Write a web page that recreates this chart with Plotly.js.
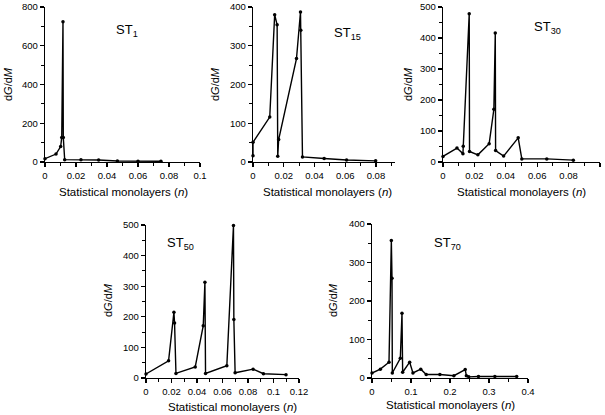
<!DOCTYPE html>
<html>
<head>
<meta charset="utf-8">
<script src="https://cdn.plot.ly/plotly-3.0.1.min.js"></script>
<style>
  html, body { margin: 0; padding: 0; background: #fff; }
  #plot { width: 605px; height: 415px; }
</style>
</head>
<body>
<div id="plot"></div>
<script>
// ST1
const st1_n = [0, 0.0071, 0.0101, 0.0108, 0.0116, 0.0118, 0.0127, 0.0232, 0.0346, 0.0467, 0.06, 0.0748];
const st1_dg = [17, 41, 80, 127, 724, 127, 12, 12, 10, 5, 4, 4];

// ST15
const st15_n = [0, 0, 0.0109, 0.0141, 0.0157, 0.0161, 0.0167, 0.0283, 0.0309, 0.0311, 0.0322, 0.0463, 0.0609, 0.0798];
const st15_dg = [16, 51, 116, 380, 354, 15, 58, 267, 387, 340, 13, 9, 5, 3];

// ST30
const st30_n = [0, 0.0089, 0.0127, 0.0129, 0.0167, 0.0169, 0.0222, 0.0294, 0.0324, 0.0333, 0.0335, 0.0386, 0.0479, 0.0502, 0.0661, 0.083];
const st30_dg = [18, 45, 27, 51, 478, 34, 23, 59, 170, 416, 37, 19, 78, 10, 10, 6];

// ST50
const st50_n = [0, 0.0177, 0.0219, 0.0224, 0.0235, 0.0386, 0.0449, 0.0462, 0.0467, 0.0634, 0.0686, 0.0689, 0.0699, 0.084, 0.0921, 0.1098];
const st50_dg = [13, 56, 215, 180, 15, 36, 171, 313, 15, 40, 498, 191, 17, 29, 14, 11];

// ST70
const st70_n = [0, 0.0214, 0.0436, 0.0496, 0.0513, 0.0521, 0.0726, 0.0769, 0.0786, 0.0966, 0.105, 0.125, 0.139, 0.174, 0.21, 0.239, 0.242, 0.248, 0.273, 0.315, 0.371];
const st70_dg = [13, 23, 41, 357, 259, 13, 51, 168, 15, 41, 13, 23, 9, 9, 6, 22, 6, 3, 4, 4, 4];

const labels = ['ST<sub>1</sub>', 'ST<sub>15</sub>', 'ST<sub>30</sub>', 'ST<sub>50</sub>', 'ST<sub>70</sub>'];

const W = 605, H = 415;
const fx = p => p / W;
const fy = p => 1 - p / H;

const series = [[st1_n, st1_dg], [st15_n, st15_dg], [st30_n, st30_dg], [st50_n, st50_dg], [st70_n, st70_dg]];

const data = series.map((s, i) => ({
    x: s[0],
    y: s[1],
    type: 'scatter',
    mode: 'lines+markers',
    xaxis: i === 0 ? 'x' : 'x' + (i + 1),
    yaxis: i === 0 ? 'y' : 'y' + (i + 1),
    line: { color: '#000', width: 1.4 },
    marker: { color: '#000', size: 3.5 },
    cliponaxis: false,
    showlegend: false,
}));

// pixel boxes of each panel [left, right, top, bottom]
const boxes = [
    [45, 200, 7, 162],
    [253, 395, 7, 162],
    [443, 600, 7, 162],
    [146, 299, 225, 378],
    [372, 528, 224, 378],
];
const xranges = [[0, 0.1], [0, 0.0924], [0, 0.1], [0, 0.12], [0, 0.4]];
const yranges = [[0, 800], [0, 400], [0, 500], [0, 500], [0, 400]];
const xdt = [0.02, 0.02, 0.02, 0.02, 0.1];
const ydt = [200, 100, 100, 100, 100];

const tickfont = { family: 'Liberation Sans, Arial, sans-serif', size: 9.5, color: '#000' };

const layout = {
    width: W,
    height: H,
    margin: { l: 0, r: 0, t: 0, b: 0 },
    paper_bgcolor: '#fff',
    plot_bgcolor: '#fff',
    showlegend: false,
    annotations: [],
};

boxes.forEach((b, i) => {
    const k = i === 0 ? '' : String(i + 1);
    layout['xaxis' + k] = {
        domain: [fx(b[0]), fx(b[1])],
        anchor: 'y' + k,
        range: xranges[i],
        dtick: xdt[i],
        tick0: 0,
        showgrid: false,
        zeroline: false,
        showline: true,
        linecolor: '#000',
        linewidth: 1.2,
        ticks: 'outside',
        ticklen: 4,
        tickwidth: 1.2,
        tickcolor: '#000',
        tickfont: tickfont,
        minor: { dtick: xdt[i] / 2, ticks: 'outside', ticklen: 3, tickcolor: '#000', tickwidth: 1, showgrid: false },
    };
    layout['yaxis' + k] = {
        domain: [fy(b[3]), fy(b[2])],
        anchor: 'x' + k,
        range: yranges[i],
        dtick: ydt[i],
        showgrid: false,
        zeroline: false,
        showline: true,
        linecolor: '#000',
        linewidth: 1.2,
        ticks: 'outside',
        ticklen: 4,
        tickwidth: 1.2,
        tickcolor: '#000',
        tickfont: tickfont,
        minor: { dtick: ydt[i] / 2, ticks: 'outside', ticklen: 3, tickcolor: '#000', tickwidth: 1, showgrid: false },
    };
});

const fam = 'Liberation Sans, Arial, sans-serif';
// panel labels
const labelPos = [[127, 30], [347, 33], [547, 27], [180, 243], [447, 243]];
labelPos.forEach((p, i) => {
    layout.annotations.push({
        text: labels[i], xref: 'paper', yref: 'paper', x: fx(p[0]), y: fy(p[1]),
        xanchor: 'center', yanchor: 'middle', showarrow: false,
        font: { family: fam, size: 13, color: '#000' },
    });
});
// x titles
const xtPos = [[123, 192], [327, 192], [521, 192], [232, 407], [450, 405]];
xtPos.forEach(p => {
    layout.annotations.push({
        text: 'Statistical monolayers (<i>n</i>)', xref: 'paper', yref: 'paper', x: fx(p[0]), y: fy(p[1]),
        xanchor: 'center', yanchor: 'middle', showarrow: false,
        font: { family: fam, size: 11.5, color: '#000' },
    });
});
// y titles
const ytPos = [[8, 84], [215, 84], [408, 84], [108, 300], [333, 300]];
ytPos.forEach(p => {
    layout.annotations.push({
        text: 'd<i>G</i>/d<i>M</i>', xref: 'paper', yref: 'paper', x: fx(p[0]), y: fy(p[1]),
        xanchor: 'center', yanchor: 'middle', showarrow: false, textangle: -90,
        font: { family: fam, size: 11, color: '#000' },
    });
});

Plotly.newPlot('plot', data, layout, { staticPlot: true, displayModeBar: false });
</script>
</body>
</html>
